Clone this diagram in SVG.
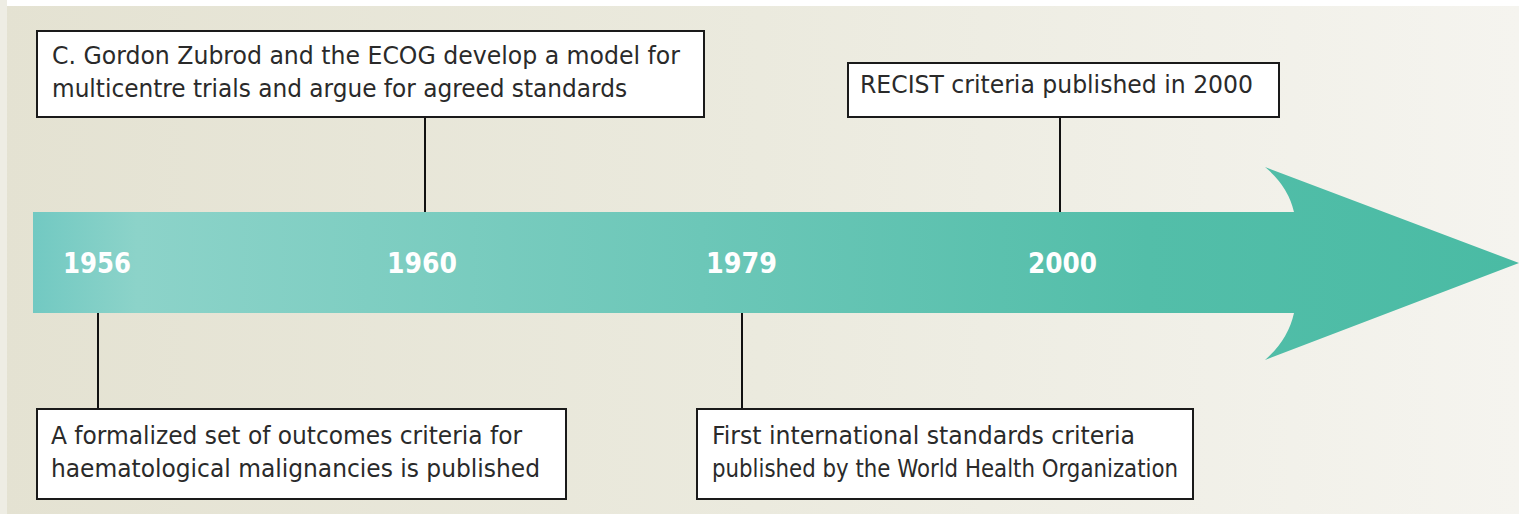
<svg xmlns="http://www.w3.org/2000/svg" width="1519" height="514" viewBox="0 0 1519 514">
  <defs>
    <linearGradient id="bg" x1="0" y1="0" x2="1" y2="0">
      <stop offset="0" stop-color="#e4e2d2"/>
      <stop offset="0.5" stop-color="#ebeade"/>
      <stop offset="1" stop-color="#f5f4ef"/>
    </linearGradient>
    <linearGradient id="band" x1="33" y1="0" x2="1519" y2="0" gradientUnits="userSpaceOnUse">
      <stop offset="0" stop-color="#72c9c2"/>
      <stop offset="0.07" stop-color="#8cd3c9"/>
      <stop offset="0.45" stop-color="#6cc7b8"/>
      <stop offset="0.75" stop-color="#53bea9"/>
      <stop offset="1" stop-color="#4abba4"/>
    </linearGradient>
    <style>
      .box { fill: #ffffff; stroke: #1a1a1a; stroke-width: 2; }
      .lbl { font-family: "Liberation Sans Narrow", "DejaVu Sans Condensed", "Liberation Sans", sans-serif; font-size: 24px; fill: #2a2a2a; }
      .yr { font-family: "Liberation Sans Narrow", "DejaVu Sans Condensed", "Liberation Sans", sans-serif; font-size: 28px; font-weight: bold; fill: #ffffff; }
      .conn { stroke: #111111; stroke-width: 2; fill: none; }
    </style>
  </defs>

  <!-- backdrop -->
  <rect x="0" y="0" width="1519" height="514" fill="url(#bg)"/>
  <rect x="0" y="0" width="1519" height="6" fill="#ffffff"/>
  <rect x="0" y="0" width="7" height="514" fill="#eeede4"/>

  <!-- timeline arrow -->
  <g id="timeline">
    <path d="M33 212 H1294 Q1288 186 1265 167 L1519 263 L1265 360 Q1288 340 1294 313 H33 Z" fill="url(#band)"/>
    <text class="yr" x="63" y="273" textLength="68" lengthAdjust="spacingAndGlyphs">1956</text>
    <text class="yr" x="387" y="273" textLength="70" lengthAdjust="spacingAndGlyphs">1960</text>
    <text class="yr" x="706" y="273" textLength="71" lengthAdjust="spacingAndGlyphs">1979</text>
    <text class="yr" x="1028" y="273" textLength="69" lengthAdjust="spacingAndGlyphs">2000</text>
  </g>

  <!-- connectors -->
  <g id="connectors">
    <line class="conn" x1="425" y1="117" x2="425" y2="212"/>
    <line class="conn" x1="1060" y1="117" x2="1060" y2="212"/>
    <line class="conn" x1="98" y1="313" x2="98" y2="409"/>
    <line class="conn" x1="742" y1="313" x2="742" y2="409"/>
  </g>

  <g id="event-1960">
    <rect class="box" x="37" y="31" width="667" height="86"/>
    <text class="lbl" x="52" y="64" textLength="628" lengthAdjust="spacingAndGlyphs">C. Gordon Zubrod and the ECOG develop a model for</text>
    <text class="lbl" x="52" y="97" textLength="575" lengthAdjust="spacingAndGlyphs">multicentre trials and argue for agreed standards</text>
  </g>

  <g id="event-2000">
    <rect class="box" x="848" y="63" width="431" height="54"/>
    <text class="lbl" x="860" y="93" textLength="393" lengthAdjust="spacingAndGlyphs">RECIST criteria published in 2000</text>
  </g>

  <g id="event-1956">
    <rect class="box" x="37" y="409" width="529" height="90"/>
    <text class="lbl" x="51" y="444" textLength="471" lengthAdjust="spacingAndGlyphs">A formalized set of outcomes criteria for</text>
    <text class="lbl" x="51" y="477" textLength="489" lengthAdjust="spacingAndGlyphs">haematological malignancies is published</text>
  </g>

  <g id="event-1979">
    <rect class="box" x="697" y="409" width="496" height="90"/>
    <text class="lbl" x="712" y="444" textLength="423" lengthAdjust="spacingAndGlyphs">First international standards criteria</text>
    <text class="lbl" x="712" y="477" textLength="466" lengthAdjust="spacingAndGlyphs">published by the World Health Organization</text>
  </g>
</svg>
